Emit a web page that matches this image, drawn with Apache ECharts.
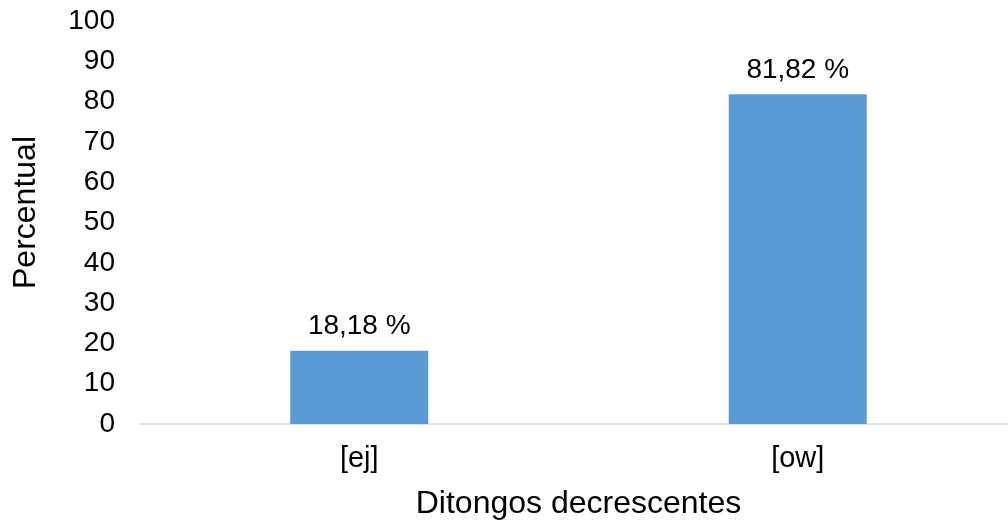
<!DOCTYPE html>
<html>
<head>
<meta charset="utf-8">
<script src="https://cdn.jsdelivr.net/npm/echarts@6/dist/echarts.min.js"></script>
<style>
html,body{margin:0;padding:0;background:#fff;overflow:hidden;width:1008px;height:525px;}
#main{width:1017px;height:525px;}
</style>
</head>
<body>
<div id="main"></div>
<script>
const categories = ['[ej]', '[ow]'];
const values = [18.18, 81.82];
const yTicks = { min: 0, max: 100, interval: 10 };
const xAxisName = 'Ditongos decrescentes';
const yAxisName = 'Percentual';

const font = '"Liberation Sans", Arial, sans-serif';
const chart = echarts.init(document.getElementById('main'), null, { renderer: 'canvas' });
chart.setOption({
  backgroundColor: '#ffffff',
  animation: false,
  grid: { left: 140, top: 21, right: 0, bottom: 101, containLabel: false },
  xAxis: {
    type: 'category',
    data: categories,
    name: xAxisName,
    nameLocation: 'middle',
    nameGap: 64,
    nameTextStyle: { fontFamily: font, fontSize: 32, color: '#000' },
    axisLine: { show: true, lineStyle: { color: '#d9d9d9', width: 1.5 } },
    axisTick: { show: false },
    axisLabel: { fontFamily: font, fontSize: 29, color: '#000', margin: 20 },
    splitLine: { show: false }
  },
  yAxis: {
    type: 'value',
    min: yTicks.min,
    max: yTicks.max,
    interval: yTicks.interval,
    name: yAxisName,
    nameLocation: 'middle',
    nameGap: 98,
    nameRotate: 90,
    nameTextStyle: { fontFamily: font, fontSize: 32, color: '#000', padding: [0, 0, 0, 20] },
    axisLine: { show: false },
    axisTick: { show: false },
    axisLabel: { fontFamily: font, fontSize: 28, color: '#000', margin: 25 },
    splitLine: { show: false }
  },
  series: [{
    type: 'bar',
    data: values,
    barWidth: 138,
    itemStyle: { color: '#5B9BD5' },
    label: {
      show: true,
      position: 'top',
      distance: 10,
      fontFamily: font,
      fontSize: 28,
      color: '#000',
      formatter: p => p.value.toFixed(2).replace('.', ',') + ' %'
    }
  }]
});
</script>
</body>
</html>
